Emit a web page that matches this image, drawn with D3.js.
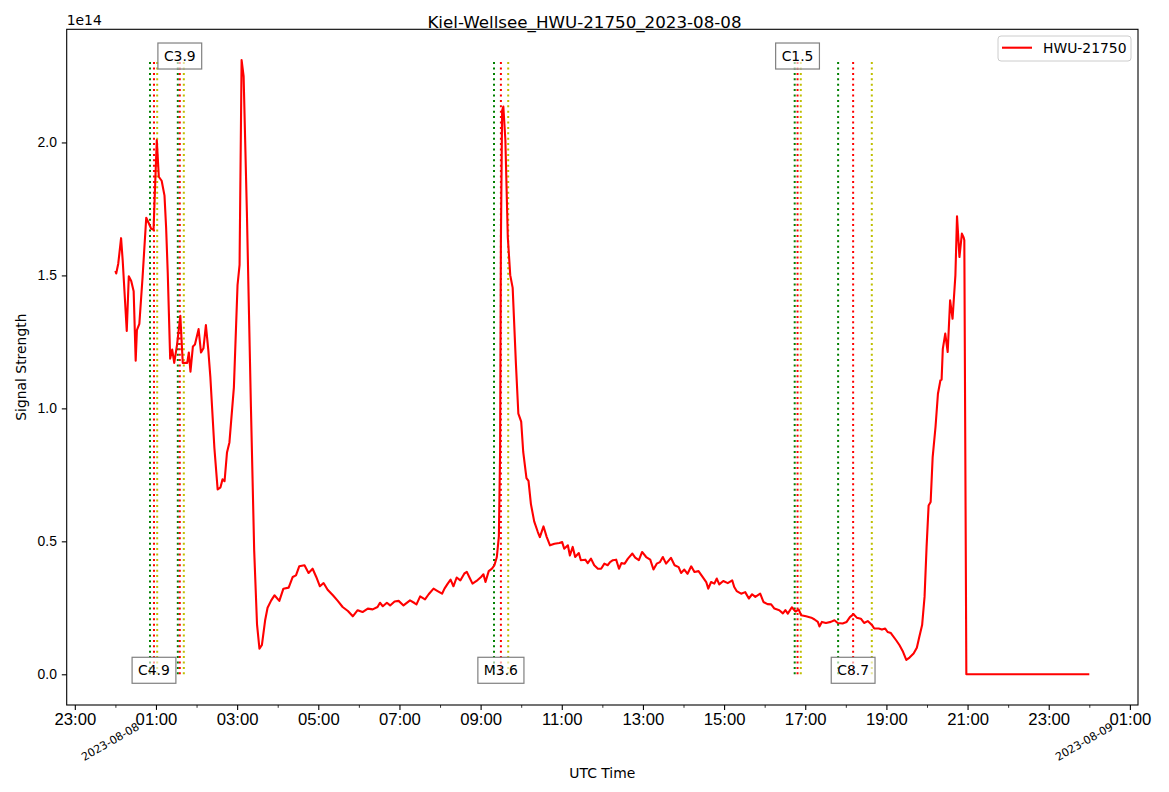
<!DOCTYPE html>
<html lang="en">
<head>
<meta charset="UTF-8">
<title>Kiel-Wellsee_HWU-21750_2023-08-08</title>
<script src="https://d3js.org/d3.v7.min.js"></script>
<style>
    body { margin: 0; background: #fff; }
    svg { font-family: "DejaVu Sans", sans-serif; }
</style>
</head>
<body>
<script>
// signal trace: hours after 2023-08-08 00:00 UTC, values in units of 1e14
const hours = [
    0.00, 0.02, 0.07, 0.14, 0.18, 0.28, 0.33, 0.39, 0.45, 0.50, 0.53, 0.59, 0.67, 0.76, 0.82, 0.88, 0.94, 0.97,
    1.02, 1.07, 1.14, 1.21, 1.25, 1.29, 1.35, 1.40, 1.45, 1.52, 1.60, 1.66, 1.77, 1.81, 1.85, 1.91, 1.96,
    2.05, 2.11, 2.17, 2.23, 2.29, 2.34, 2.44, 2.52, 2.59, 2.64, 2.69, 2.75, 2.81, 2.92,
    3.01, 3.06, 3.11, 3.16, 3.24, 3.34, 3.42, 3.49, 3.55, 3.61, 3.69, 3.75, 3.84, 3.92,
    4.04, 4.14, 4.27, 4.37, 4.45, 4.53, 4.66, 4.76, 4.86, 4.95,
    5.04, 5.13, 5.23, 5.36, 5.48, 5.60, 5.73, 5.85, 5.97,
    6.09, 6.22, 6.34, 6.46, 6.52, 6.59, 6.69, 6.77, 6.88, 6.98,
    7.10, 7.26, 7.37, 7.42, 7.51, 7.63, 7.72, 7.84, 7.94,
    8.05, 8.11, 8.19, 8.26, 8.33, 8.41, 8.50, 8.60, 8.66, 8.72, 8.80, 8.90,
    9.01, 9.07, 9.12, 9.20, 9.28, 9.34, 9.40, 9.45, 9.48, 9.50, 9.53, 9.56, 9.61, 9.67, 9.73, 9.79, 9.87, 9.93,
    10.00, 10.05, 10.13, 10.18, 10.24, 10.32, 10.41, 10.46, 10.55, 10.63, 10.71, 10.82, 10.94,
    11.01, 11.06, 11.15, 11.20, 11.27, 11.33, 11.42, 11.47, 11.58, 11.64, 11.72, 11.80, 11.89, 11.97,
    12.05, 12.13, 12.19, 12.26, 12.34, 12.41, 12.47, 12.55, 12.63, 12.74, 12.81, 12.90, 12.98,
    13.08, 13.18, 13.26, 13.34, 13.42, 13.49, 13.57, 13.69, 13.78, 13.88, 13.94,
    14.02, 14.10, 14.19, 14.27, 14.37, 14.47, 14.56, 14.61, 14.68, 14.76, 14.82, 14.88, 14.98,
    15.09, 15.20, 15.25, 15.31, 15.42, 15.52, 15.61, 15.69, 15.77, 15.89, 15.97,
    16.07, 16.16, 16.24, 16.36, 16.45, 16.51, 16.57, 16.67, 16.76, 16.84, 16.90,
    17.02, 17.15, 17.23, 17.31, 17.35, 17.41, 17.51, 17.63, 17.72, 17.80, 17.92,
    18.02, 18.10, 18.19, 18.27, 18.37, 18.45, 18.54, 18.65, 18.70, 18.81, 18.89, 18.97,
    19.03, 19.11, 19.24, 19.32, 19.40, 19.49, 19.57, 19.67, 19.75, 19.81, 19.88, 19.94, 19.99,
    20.04, 20.09, 20.14, 20.21, 20.27, 20.33, 20.36, 20.39, 20.45, 20.51, 20.57, 20.63, 20.70, 20.74,
    20.80, 20.86, 20.90, 20.92, 20.97, 24.00
];
const signal = [
    1.517, 1.507, 1.544, 1.640, 1.556, 1.291, 1.497, 1.479, 1.440, 1.179, 1.294, 1.318, 1.494, 1.717, 1.697, 1.676, 1.671, 1.800,
    2.009, 1.871, 1.856, 1.800, 1.679, 1.510, 1.187, 1.221, 1.171, 1.240, 1.348, 1.171, 1.171, 1.210, 1.138, 1.233, 1.240,
    1.298, 1.210, 1.226, 1.313, 1.218, 1.118, 0.850, 0.695, 0.703, 0.733, 0.726, 0.834, 0.872, 1.079,
    1.464, 1.540, 2.310, 2.248, 1.740, 1.004, 0.466, 0.188, 0.096, 0.110, 0.203, 0.250, 0.278, 0.297,
    0.276, 0.322, 0.326, 0.366, 0.372, 0.406, 0.410, 0.381, 0.397, 0.366,
    0.331, 0.343, 0.318, 0.297, 0.276, 0.253, 0.238, 0.218, 0.241,
    0.234, 0.247, 0.244, 0.253, 0.269, 0.256, 0.269, 0.259, 0.274, 0.276,
    0.259, 0.278, 0.268, 0.263, 0.293, 0.282, 0.301, 0.322, 0.313,
    0.303, 0.322, 0.341, 0.356, 0.331, 0.364, 0.353, 0.379, 0.385, 0.366, 0.341, 0.351,
    0.366, 0.376, 0.347, 0.388, 0.397, 0.410, 0.441, 0.519, 0.835, 1.628, 2.120, 2.135, 2.010, 1.644, 1.501, 1.453, 1.168, 0.980,
    0.950, 0.836, 0.738, 0.727, 0.640, 0.575, 0.535, 0.516, 0.556, 0.516, 0.485, 0.491, 0.494,
    0.497, 0.472, 0.485, 0.447, 0.479, 0.441, 0.456, 0.429, 0.431, 0.418, 0.435, 0.410, 0.397, 0.397,
    0.416, 0.410, 0.422, 0.429, 0.431, 0.397, 0.418, 0.416, 0.435, 0.454, 0.439, 0.429, 0.460,
    0.441, 0.431, 0.394, 0.416, 0.422, 0.441, 0.416, 0.438, 0.410, 0.403, 0.381,
    0.394, 0.378, 0.406, 0.385, 0.388, 0.366, 0.347, 0.322, 0.347, 0.341, 0.360, 0.338, 0.351,
    0.343, 0.353, 0.328, 0.313, 0.303, 0.309, 0.285, 0.301, 0.291, 0.303, 0.272,
    0.264, 0.263, 0.247, 0.241, 0.229, 0.241, 0.228, 0.252, 0.236, 0.243, 0.222,
    0.218, 0.213, 0.206, 0.197, 0.180, 0.197, 0.193, 0.197, 0.203, 0.193, 0.191,
    0.197, 0.215, 0.226, 0.213, 0.209, 0.193, 0.200, 0.184, 0.172, 0.172, 0.168, 0.172,
    0.159, 0.155, 0.128, 0.110, 0.088, 0.054, 0.063, 0.078, 0.100, 0.140, 0.185, 0.291, 0.479,
    0.635, 0.648, 0.817, 0.930, 1.055, 1.105, 1.108, 1.224, 1.281, 1.212, 1.406, 1.337, 1.500, 1.722,
    1.569, 1.657, 1.644, 1.632, 0.000, 0.000
];

// flares: class, start / peak / end in hours UTC
const flareClass = ["C4.9", "C3.9", "M3.6", "C1.5", "C8.7"];
const flareStart = [0.853, 1.538, 9.33, 16.74, 17.81];
const flarePeak  = [0.951, 1.587, 9.50, 16.81, 18.18];
const flareEnd   = [1.03, 1.686, 9.68, 16.89, 18.64];

const yTicks = [0, 0.5, 1.0, 1.5, 2.0];
const majorTickHours = [-1, 1, 3, 5, 7, 9, 11, 13, 15, 17, 19, 21, 23, 25];
const minorTickHours = [0, 2, 4, 6, 8, 10, 12, 14, 16, 18, 20, 22, 24];
const dateTickHours = [0, 24];
const dateTickLabels = ["2023-08-08", "2023-08-09"];

const width = 1169, height = 792;
const margin = { top: 29.3, right: 31, bottom: 87, left: 66.7 };

const day0 = Date.UTC(2023, 7, 8);
const toDate = h => new Date(day0 + h * 3600e3);

const data = hours.map((h, i) => ({ t: toDate(h), v: signal[i] }));

// matplotlib-like 5% margins
const hSpan = d3.max(hours) - d3.min(hours);
const vMax = d3.max(signal), vMin = d3.min(signal);
const vSpan = vMax - vMin;

const x = d3.scaleUtc()
    .domain([toDate(d3.min(hours) - 0.05 * hSpan), toDate(d3.max(hours) + 0.05 * hSpan)])
    .range([margin.left, width - margin.right]);

const y = d3.scaleLinear()
    .domain([vMin - 0.05 * vSpan, vMax + 0.05 * vSpan])
    .range([height - margin.bottom, margin.top]);

const svg = d3.select("body").append("svg")
    .attr("width", width)
    .attr("height", height);

// flare lines
const flareColors = ["green", "red", "#bfbf00"];
flareClass.forEach((c, i) => {
    [flareStart[i], flarePeak[i], flareEnd[i]].forEach((h, j) => {
        svg.append("line")
            .attr("x1", x(toDate(h))).attr("x2", x(toDate(h)))
            .attr("y1", y(0)).attr("y2", y(vMax))
            .attr("stroke", flareColors[j])
            .attr("stroke-width", 2)
            .attr("stroke-dasharray", "2,3.4");
    });
});

// signal line
svg.append("path")
    .datum(data)
    .attr("fill", "none")
    .attr("stroke", "red")
    .attr("stroke-width", 2.1)
    .attr("stroke-linejoin", "round")
    .attr("d", d3.line().x(d => x(d.t)).y(d => y(d.v)));

// flare class labels, alternating bottom / top
flareClass.forEach((c, i) => {
    const cx = x(toDate(flarePeak[i]));
    const cy = (i % 2 === 0 ? y(0) : y(vMax)) - 4;
    const g = svg.append("g");
    const t = g.append("text")
        .attr("x", cx).attr("y", cy)
        .attr("text-anchor", "middle")
        .attr("dominant-baseline", "central")
        .style("font-size", "13.9px")
        .text(c);
    const bb = t.node().getBBox();
    g.insert("rect", "text")
        .attr("x", bb.x - 6).attr("y", cy - 13)
        .attr("width", bb.width + 12).attr("height", 26)
        .attr("fill", "white").attr("fill-opacity", 0.6)
        .attr("stroke", "#808080").attr("stroke-width", 1.2);
});

// axes
const xMajor = svg.append("g")
    .attr("transform", `translate(0,${height - margin.bottom})`)
    .call(d3.axisBottom(x)
        .tickValues(majorTickHours.map(toDate))
        .tickFormat(d3.utcFormat("%H:%M"))
        .tickSize(4.9).tickPadding(3.5));
xMajor.select(".domain").remove();
xMajor.selectAll("text").style("font-size", "16.7px").attr("fill", "black");
xMajor.selectAll("line").attr("stroke-width", 1.1);

const xMinor = svg.append("g")
    .attr("transform", `translate(0,${height - margin.bottom})`)
    .call(d3.axisBottom(x)
        .tickValues(minorTickHours.map(toDate))
        .tickFormat("")
        .tickSize(2.8));
xMinor.select(".domain").remove();
xMinor.selectAll("line").attr("stroke-width", 0.8);

// rotated date labels at midnight
dateTickHours.forEach((h, i) => {
    svg.append("text")
        .attr("transform", `translate(${x(toDate(h)) - 5},742) rotate(-30)`)
        .attr("text-anchor", "middle")
        .attr("dominant-baseline", "central")
        .style("font-size", "11.1px")
        .text(dateTickLabels[i]);
});

const yAxis = svg.append("g")
    .attr("transform", `translate(${margin.left},0)`)
    .call(d3.axisLeft(y)
        .tickValues(yTicks)
        .tickFormat(d3.format(".1f"))
        .tickSize(4.9).tickPadding(4.9));
yAxis.select(".domain").remove();
yAxis.selectAll("text").style("font-size", "13.9px").attr("fill", "black");
yAxis.selectAll("line").attr("stroke-width", 1.1);

// frame
svg.append("rect")
    .attr("x", margin.left).attr("y", margin.top)
    .attr("width", width - margin.left - margin.right)
    .attr("height", height - margin.top - margin.bottom)
    .attr("fill", "none").attr("stroke", "black").attr("stroke-width", 1.1);

// offset text
svg.append("text")
    .attr("x", margin.left).attr("y", 25)
    .style("font-size", "13.9px")
    .text("1e14");

// figure title (centred on the whole figure)
svg.append("text")
    .attr("x", width / 2).attr("y", 28)
    .attr("text-anchor", "middle")
    .style("font-size", "16.7px")
    .text("Kiel-Wellsee_HWU-21750_2023-08-08");

// axis labels
svg.append("text")
    .attr("x", (margin.left + width - margin.right) / 2).attr("y", 778)
    .attr("text-anchor", "middle")
    .style("font-size", "13.9px")
    .text("UTC Time");

svg.append("text")
    .attr("transform", `translate(26,${(margin.top + height - margin.bottom) / 2}) rotate(-90)`)
    .attr("text-anchor", "middle")
    .style("font-size", "13.9px")
    .text("Signal Strength");

// legend
const legend = svg.append("g");
legend.append("rect")
    .attr("x", 998).attr("y", 36).attr("width", 133).attr("height", 25).attr("rx", 3)
    .attr("fill", "white").attr("fill-opacity", 0.8)
    .attr("stroke", "#cccccc").attr("stroke-width", 1);
legend.append("line")
    .attr("x1", 1002).attr("x2", 1032).attr("y1", 47.7).attr("y2", 47.7)
    .attr("stroke", "red").attr("stroke-width", 2.1);
legend.append("text")
    .attr("x", 1043).attr("y", 52.8)
    .style("font-size", "13.9px")
    .text("HWU-21750");
</script>
</body>
</html>
